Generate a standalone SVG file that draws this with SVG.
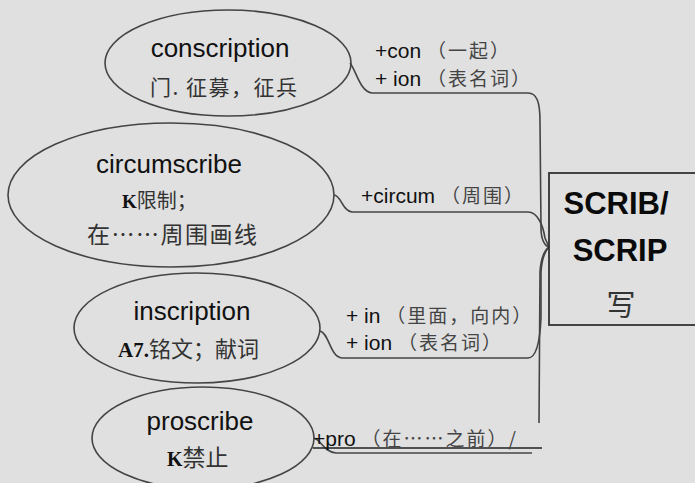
<svg xmlns="http://www.w3.org/2000/svg" width="695" height="483" viewBox="0 0 695 483">
<style>
.bg{fill:#e0e0e0}
.node{fill:none;stroke:#444;stroke-width:1.6}
.en{font-family:"Liberation Sans",Arial,sans-serif;font-size:26px;fill:#111}
.zh{font-family:"Noto Sans CJK SC",sans-serif;fill:#333}
.b{font-family:"Liberation Serif","Times New Roman",serif;font-weight:bold;fill:#111}
.lab{font-family:"Liberation Sans",Arial,"Noto Sans CJK SC",sans-serif;font-size:21px;fill:#111}
.lab tspan.c{font-family:"Noto Sans CJK SC",sans-serif;font-size:19px;letter-spacing:2px;fill:#444}
.con{fill:none;stroke:#444;stroke-width:1.6}
.root{font-family:"Liberation Sans",Arial,sans-serif;font-weight:bold;font-size:31px;fill:#0a0a0a}
</style>
<rect class="bg" x="0" y="0" width="695" height="483"/>
<g id="connectors">
<path class="con" d="M350,63 C356,70 360,92 372,93 L528,93 C537,93 540,102 540,122 L541,228 C541,240 545,246 549,247"/>
<path class="con" d="M334,195 C341,195 342,211 352,212 L528,212 C538,212 543,226 545,238 L549,247"/>
<path class="con" d="M320,331 C329,333 330,357 342,358 L528,358 C537,358 540,340 541,318 L541,272 C542,257 546,250 549,247"/>
<path class="con" d="M314,438 C321,440 324,452 336,453 L532,453"/>
<path class="con" d="M539,423 L540,272 C541,257 545,250 549,247"/>
<path d="M313,448 L542,448" fill="none" stroke="#222" stroke-width="1.3"/>
</g>
<g id="labels">
<text class="lab" x="375" y="58">+con <tspan class="c">（一起）</tspan></text>
<text class="lab" x="375" y="86">+ ion <tspan class="c">（表名词）</tspan></text>
<text class="lab" x="361" y="203">+circum <tspan class="c">（周围）</tspan></text>
<text class="lab" x="346" y="323">+ in <tspan class="c">（里面，向内）</tspan></text>
<text class="lab" x="346" y="350">+ ion <tspan class="c">（表名词）</tspan></text>
<text class="lab" x="313" y="446">+pro <tspan class="c">（在……之前）/</tspan></text>
</g>
<g id="conscription">
<ellipse class="node" cx="228" cy="63" rx="123" ry="53"/>
<text class="en" x="220" y="57" text-anchor="middle">conscription</text>
<text class="zh" x="150" y="95" style="font-size:21px;letter-spacing:1.5px">门. 征募，征兵</text>
</g>
<g id="circumscribe">
<ellipse class="node" cx="171" cy="195" rx="163" ry="72"/>
<text class="en" x="169" y="173" text-anchor="middle">circumscribe</text>
<text x="122" y="208"><tspan class="b" style="font-size:19px">K</tspan><tspan class="zh" style="font-size:20px">限制；</tspan></text>
<text class="zh" x="87" y="243" style="font-size:23px;letter-spacing:1.5px">在……周围画线</text>
</g>
<g id="inscription">
<ellipse class="node" cx="197" cy="328" rx="123" ry="55"/>
<text class="en" x="192" y="320" text-anchor="middle">inscription</text>
<text x="118" y="357"><tspan class="b" style="font-size:21px">A7.</tspan><tspan class="zh" style="font-size:22px">铭文；献词</tspan></text>
</g>
<g id="proscribe">
<ellipse class="node" cx="203" cy="438" rx="111" ry="51"/>
<text class="en" x="200" y="430" text-anchor="middle">proscribe</text>
<text x="167" y="466"><tspan class="b" style="font-size:20px">K</tspan><tspan class="zh" style="font-size:23px">禁止</tspan></text>
</g>
<g id="root">
<rect x="549" y="173" width="160" height="152" fill="none" stroke="#333" stroke-width="1.8"/>
<text class="root" x="616" y="214" text-anchor="middle">SCRIB/</text>
<text class="root" x="620" y="261" text-anchor="middle">SCRIP</text>
<text class="zh" x="621" y="316" text-anchor="middle" style="font-size:29px">写</text>
</g>
</svg>
